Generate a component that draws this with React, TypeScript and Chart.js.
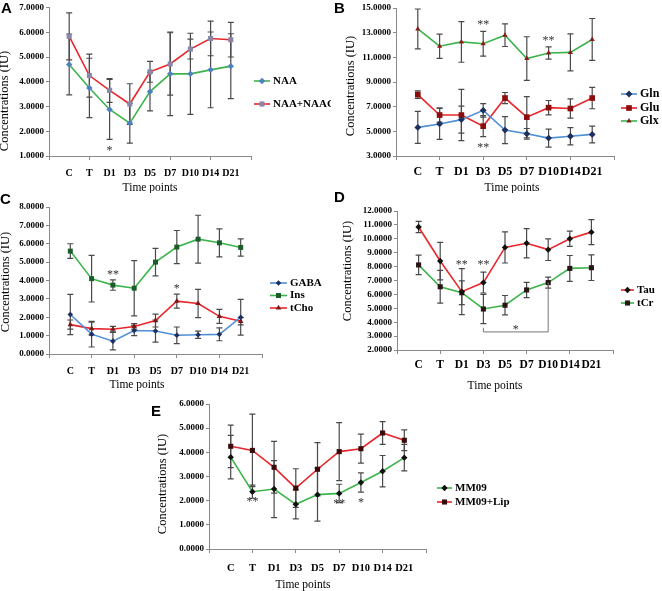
import React, { useEffect, useRef } from 'react';
import { Chart, registerables } from 'chart.js';
Chart.register(...registerables);

const SERIF = '"Liberation Serif", "Times New Roman", serif';
const SANS = '"Liberation Sans", Arial, sans-serif';

// ---------- data ----------
const timePoints = ['C', 'T', 'D1', 'D3', 'D5', 'D7', 'D10', 'D14', 'D21'];

// Panel A
const naa = [4.70, 3.75, 2.88, 2.33, 3.60, 4.32, 4.32, 4.48, 4.63];
const naaErr = [1.23, 1.20, 1.21, 0.81, 0.78, 1.69, 1.64, 1.53, 1.31];
const naaNaag = [5.83, 4.25, 3.65, 3.10, 4.40, 4.72, 5.32, 5.75, 5.70];
const naaNaagErr = [0.95, 0.87, 0.48, 0.82, 0.42, 1.26, 0.40, 0.70, 0.70];

// Panel B
const gln = [5.32, 5.60, 5.95, 6.70, 5.10, 4.80, 4.45, 4.60, 4.75];
const glnErr = [1.30, 1.25, 1.10, 0.55, 1.10, 0.43, 0.73, 0.70, 0.68];
const glu = [7.98, 6.32, 6.32, 5.42, 7.70, 6.15, 6.92, 6.85, 7.70];
const gluErr = [0.30, 0.58, 2.08, 0.85, 0.45, 1.67, 0.58, 0.78, 0.87];
const glx = [13.30, 11.90, 12.25, 12.10, 12.80, 10.90, 11.35, 11.40, 12.45];
const glxErr = [1.62, 0.98, 1.65, 1.00, 0.92, 1.77, 0.50, 1.50, 1.70];

// Panel C
const gaba = [2.15, 1.08, 0.70, 1.28, 1.25, 1.02, 1.05, 1.07, 2.00];
const gabaErr = [1.10, 0.70, 0.48, 0.28, 0.60, 0.45, 0.20, 0.35, 0.97];
const ins = [5.60, 4.10, 3.75, 3.58, 5.00, 5.82, 6.25, 6.05, 5.80];
const insErr = [0.40, 1.27, 0.28, 1.50, 0.75, 0.90, 1.30, 0.76, 0.47];
const tcho = [1.60, 1.38, 1.35, 1.50, 1.82, 2.88, 2.75, 2.05, 1.78];
const tchoErr = [0.25, 0.35, 0.15, 0.15, 0.35, 0.38, 0.77, 0.38, 0.20];

// Panel D
const tau = [10.85, 8.40, 6.20, 6.85, 9.38, 9.68, 9.22, 10.00, 10.48];
const tauErr = [0.40, 1.35, 1.65, 0.75, 1.12, 1.05, 0.78, 0.55, 0.90];
const tcr = [8.12, 6.55, 6.12, 4.95, 5.22, 6.32, 6.85, 7.87, 7.92];
const tcrErr = [0.70, 1.18, 0.85, 1.05, 0.70, 0.55, 0.40, 0.93, 0.92];

// Panel E
const mm09 = [3.80, 2.37, 2.48, 1.85, 2.25, 2.30, 2.75, 3.22, 3.78];
const mm09Err = [0.90, 0.27, 1.18, 0.60, 1.10, 0.38, 0.40, 0.65, 0.55];
const mm09Lip = [4.25, 4.08, 3.38, 2.52, 3.30, 4.03, 4.15, 4.80, 4.50];
const mm09LipErr = [0.88, 1.50, 1.07, 0.80, 1.10, 1.20, 0.60, 0.47, 0.43];

// significance marks (x = time-point index, y = value)
const starsA = [{ x: 2, y: 1.32, text: '*' }];
const starsB = [
  { x: 3, y: 13.8, text: '**' },
  { x: 3, y: 3.9, text: '**' },
  { x: 6, y: 12.57, text: '**' },
];
const starsC = [
  { x: 2, y: 4.47, text: '**' },
  { x: 5, y: 3.7, text: '*' },
];
const starsD = [
  { x: 2, y: 8.33, text: '**' },
  { x: 3, y: 8.33, text: '**' },
  { x: 4.5, y: 3.6, text: '*' },
];
const starsE = [
  { x: 1, y: 2.07, text: '**' },
  { x: 5, y: 1.96, text: '**' },
  { x: 6, y: 2.0, text: '*' },
];
const bracketD = { from: 3, to: 6, base: 3.3, leftTop: 3.6, rightTop: 6.85 };

// ---------- styling ----------
const GREEN = '#3cb44b';
const RED = '#e8262b';
const BLUE = '#4f8fd6';

type Shape = 'rectRot' | 'rect' | 'triangle';
interface Series {
  label: string;
  values: number[];
  errors: number[];
  line: string;
  marker: string;
  shape: Shape;
  radius: number;
}
interface Panel {
  letter: string;
  box: { x: number; y: number; w: number; h: number };
  area: { l: number; t: number; r: number; b: number };
  yMin: number;
  yMax: number;
  yStep: number;
  xFont: number;
  xPad: number;
  series: Series[];
  legend: { x0: number; x1: number; tx: number; ys: number[]; font: number };
  yTitle: { x: number; y: number };
  xTitle: { x: number; y: number };
  letterPos: { x: number; y: number };
  stars: { x: number; y: number; text: string }[];
  bracket?: typeof bracketD;
}

const panels: Panel[] = [
  {
    letter: 'A',
    box: { x: 0, y: 0, w: 331, h: 193 },
    area: { l: 49, t: 7.5, r: 251, b: 156 },
    yMin: 1, yMax: 7, yStep: 1, xFont: 10, xPad: 7,
    series: [
      { label: 'NAA', values: naa, errors: naaErr, line: GREEN, marker: '#4f81bd', shape: 'rectRot', radius: 3.2 },
      { label: 'NAA+NAAG', values: naaNaag, errors: naaNaagErr, line: RED, marker: '#8a86a8', shape: 'rect', radius: 3.6 },
    ],
    legend: { x0: 254, x1: 270, tx: 273, ys: [81, 104], font: 11 },
    yTitle: { x: 5, y: 101 },
    xTitle: { x: 150, y: 188 },
    letterPos: { x: 1, y: 1 },
    stars: starsA,
  },
  {
    letter: 'B',
    box: { x: 331, y: 0, w: 331, h: 193 },
    area: { l: 396, t: 8, r: 614, b: 156 },
    yMin: 3, yMax: 15, yStep: 2, xFont: 12, xPad: 4.8,
    series: [
      { label: 'Gln', values: gln, errors: glnErr, line: BLUE, marker: '#1f2f5f', shape: 'rectRot', radius: 3.4 },
      { label: 'Glu', values: glu, errors: gluErr, line: RED, marker: '#8b0d0d', shape: 'rect', radius: 4 },
      { label: 'Glx', values: glx, errors: glxErr, line: GREEN, marker: '#8b1a1a', shape: 'triangle', radius: 3 },
    ],
    legend: { x0: 621, x1: 637, tx: 640, ys: [94, 108, 121], font: 12 },
    yTitle: { x: 351, y: 86 },
    xTitle: { x: 512, y: 188 },
    letterPos: { x: 334, y: 1 },
    stars: starsB,
  },
  {
    letter: 'C',
    box: { x: 0, y: 191, w: 331, h: 202 },
    area: { l: 49, t: 207, r: 262, b: 354 },
    yMin: 0, yMax: 8, yStep: 1, xFont: 10, xPad: 7,
    series: [
      { label: 'GABA', values: gaba, errors: gabaErr, line: BLUE, marker: '#1f2f5f', shape: 'rectRot', radius: 2.8 },
      { label: 'Ins', values: ins, errors: insErr, line: GREEN, marker: '#1a5c2a', shape: 'rect', radius: 3.5 },
      { label: 'tCho', values: tcho, errors: tchoErr, line: RED, marker: '#7a1a1a', shape: 'triangle', radius: 3.2 },
    ],
    legend: { x0: 270, x1: 287, tx: 290, ys: [283, 295.5, 308], font: 11 },
    yTitle: { x: 6, y: 282 },
    xTitle: { x: 137, y: 385 },
    letterPos: { x: 0, y: 192 },
    stars: starsC,
  },
  {
    letter: 'D',
    box: { x: 331, y: 191, w: 331, h: 202 },
    area: { l: 397, t: 211, r: 613, b: 350 },
    yMin: 2, yMax: 12, yStep: 1, xFont: 11.5, xPad: 4.1,
    series: [
      { label: 'Tau', values: tau, errors: tauErr, line: RED, marker: '#111111', shape: 'rectRot', radius: 3.2 },
      { label: 'tCr', values: tcr, errors: tcrErr, line: GREEN, marker: '#2a1515', shape: 'rect', radius: 3.6 },
    ],
    legend: { x0: 621, x1: 634, tx: 637, ys: [290, 303], font: 11 },
    yTitle: { x: 348, y: 271 },
    xTitle: { x: 495, y: 386 },
    letterPos: { x: 334, y: 190 },
    stars: starsD,
    bracket: bracketD,
  },
  {
    letter: 'E',
    box: { x: 150, y: 398, w: 360, h: 193 },
    area: { l: 209, t: 404, r: 426, b: 549 },
    yMin: 0, yMax: 6, yStep: 1, xFont: 10.5, xPad: 8.7,
    series: [
      { label: 'MM09', values: mm09, errors: mm09Err, line: GREEN, marker: '#111111', shape: 'rectRot', radius: 3.2 },
      { label: 'MM09+Lip09', values: mm09Lip, errors: mm09LipErr, line: RED, marker: '#3a0a0a', shape: 'rect', radius: 3.6 },
    ],
    legend: { x0: 437, x1: 452, tx: 455, ys: [488, 502], font: 11 },
    yTitle: { x: 163, y: 484 },
    xTitle: { x: 303, y: 585 },
    letterPos: { x: 151, y: 404 },
    stars: starsE,
  },
];

function drawMarker(ctx: CanvasRenderingContext2D, shape: Shape, x: number, y: number, r: number, color: string) {
  ctx.fillStyle = color;
  ctx.beginPath();
  if (shape === 'rectRot') {
    ctx.moveTo(x, y - r);
    ctx.lineTo(x + r, y);
    ctx.lineTo(x, y + r);
    ctx.lineTo(x - r, y);
  } else if (shape === 'rect') {
    const s = r * Math.SQRT1_2;
    ctx.rect(x - s, y - s, 2 * s, 2 * s);
  } else {
    ctx.moveTo(x, y - r);
    ctx.lineTo(x + r * 0.866, y + r * 0.5);
    ctx.lineTo(x - r * 0.866, y + r * 0.5);
  }
  ctx.closePath();
  ctx.fill();
}

function makePlugin(p: Panel) {
  return {
    id: 'decor' + p.letter,
    beforeDatasetsDraw(chart: any) {
      const ctx: CanvasRenderingContext2D = chart.ctx;
      const xs = chart.scales.x;
      const ys = chart.scales.y;
      ctx.save();
      ctx.strokeStyle = '#4a4a4a';
      ctx.lineWidth = 1.2;
      p.series.forEach((s) => {
        s.values.forEach((v, i) => {
          const e = s.errors[i];
          const px = xs.getPixelForValue(i);
          const top = ys.getPixelForValue(v + e);
          const bot = ys.getPixelForValue(v - e);
          ctx.beginPath();
          ctx.moveTo(px, top);
          ctx.lineTo(px, bot);
          ctx.moveTo(px - 3, top);
          ctx.lineTo(px + 3, top);
          ctx.moveTo(px - 3, bot);
          ctx.lineTo(px + 3, bot);
          ctx.stroke();
        });
      });
      ctx.restore();
    },
    afterDraw(chart: any) {
      const ctx: CanvasRenderingContext2D = chart.ctx;
      const xs = chart.scales.x;
      const ys = chart.scales.y;
      const ox = p.box.x;
      const oy = p.box.y;
      ctx.save();
      // panel letter
      ctx.fillStyle = '#000';
      ctx.font = `bold 15px ${SANS}`;
      ctx.textAlign = 'left';
      ctx.textBaseline = 'top';
      ctx.fillText(p.letter, p.letterPos.x - ox, p.letterPos.y - oy);
      // y title
      ctx.save();
      ctx.translate(p.yTitle.x - ox, p.yTitle.y - oy);
      ctx.rotate(-Math.PI / 2);
      ctx.font = `12.5px ${SERIF}`;
      ctx.textAlign = 'center';
      ctx.textBaseline = 'middle';
      ctx.fillText('Concentrations (IU)', 0, 0);
      ctx.restore();
      // x title
      ctx.font = `11.5px ${SERIF}`;
      ctx.textAlign = 'center';
      ctx.textBaseline = 'middle';
      ctx.fillText('Time points', p.xTitle.x - ox, p.xTitle.y - oy);
      // legend
      p.series.forEach((s, i) => {
        const y = p.legend.ys[i] - oy;
        ctx.strokeStyle = s.line;
        ctx.lineWidth = 1.6;
        ctx.beginPath();
        ctx.moveTo(p.legend.x0 - ox, y);
        ctx.lineTo(p.legend.x1 - ox, y);
        ctx.stroke();
        drawMarker(ctx, s.shape, (p.legend.x0 + p.legend.x1) / 2 - ox, y, s.radius, s.marker);
        ctx.fillStyle = '#000';
        ctx.font = `bold ${p.legend.font}px ${SERIF}`;
        ctx.textAlign = 'left';
        ctx.textBaseline = 'middle';
        ctx.fillText(s.label, p.legend.tx - ox, y);
      });
      // significance stars
      ctx.fillStyle = '#333';
      ctx.font = `12px ${SERIF}`;
      ctx.textAlign = 'center';
      ctx.textBaseline = 'middle';
      p.stars.forEach((st) => {
        ctx.fillText(st.text, xs.getPixelForValue(st.x), ys.getPixelForValue(st.y) + 2.5);
      });
      // bracket
      if (p.bracket) {
        const b = p.bracket;
        const x0 = xs.getPixelForValue(b.from);
        const x1 = xs.getPixelForValue(b.to);
        ctx.strokeStyle = '#777';
        ctx.lineWidth = 1;
        ctx.beginPath();
        ctx.moveTo(x0, ys.getPixelForValue(b.leftTop));
        ctx.lineTo(x0, ys.getPixelForValue(b.base));
        ctx.lineTo(x1, ys.getPixelForValue(b.base));
        ctx.lineTo(x1, ys.getPixelForValue(b.rightTop));
        ctx.stroke();
      }
      ctx.restore();
    },
  };
}

function zeroPad(s: any) {
  s.paddingTop = 0;
  s.paddingBottom = 0;
  s.paddingLeft = 0;
  s.paddingRight = 0;
}

function PanelChart({ p }: { p: Panel }) {
  const ref = useRef<HTMLCanvasElement>(null);
  useEffect(() => {
    if (!ref.current) return;
    const tickFont = { family: SERIF, weight: 'bold' as const };
    const chart = new Chart(ref.current, {
      type: 'line',
      data: {
        datasets: p.series.map((s) => ({
          label: s.label,
          data: s.values.map((v, i) => ({ x: i, y: v })),
          borderColor: s.line,
          backgroundColor: s.marker,
          borderWidth: 1.6,
          pointStyle: s.shape,
          pointRadius: s.radius,
          pointBackgroundColor: s.marker,
          pointBorderColor: s.marker,
          pointBorderWidth: 0,
          tension: 0,
          fill: false,
        })),
      },
      options: {
        animation: false,
        responsive: false,
        events: [],
        layout: {
          autoPadding: false,
          padding: {
            left: 0,
            top: p.area.t - p.box.y,
            right: p.box.x + p.box.w - p.area.r,
            bottom: 0,
          },
        },
        plugins: { legend: { display: false }, tooltip: { enabled: false } },
        scales: {
          x: {
            type: 'linear',
            min: -1,
            max: timePoints.length,
            afterBuildTicks: (axis: any) => {
              const t = [];
              for (let v = -1; v <= timePoints.length; v++) t.push({ value: v });
              axis.ticks = t;
            },
            afterFit: (s: any) => {
              s.height = p.box.y + p.box.h - p.area.b;
              zeroPad(s);
            },
            grid: {
              display: true,
              drawOnChartArea: false,
              drawTicks: true,
              tickLength: 4,
              tickColor: (c: any) =>
                c.tick && Math.abs(c.tick.value % 2) === 1 ? '#8a8a8a' : 'rgba(0,0,0,0)',
            },
            border: { display: true, color: '#8a8a8a', width: 1 },
            ticks: {
              autoSkip: false,
              maxRotation: 0,
              minRotation: 0,
              padding: p.xPad,
              color: '#000',
              font: { ...tickFont, size: p.xFont },
              callback: (v: any) => timePoints[v] ?? '',
            },
          },
          y: {
            type: 'linear',
            min: p.yMin,
            max: p.yMax,
            afterFit: (s: any) => {
              s.width = p.area.l - p.box.x;
              zeroPad(s);
            },
            grid: {
              display: true,
              drawOnChartArea: false,
              drawTicks: true,
              tickLength: 3,
              color: '#8a8a8a',
            },
            border: { display: true, color: '#8a8a8a', width: 1 },
            ticks: {
              stepSize: p.yStep,
              padding: 2,
              color: '#000',
              font: { ...tickFont, size: 9 },
              callback: (v: any) => Number(v).toFixed(4),
            },
          },
        },
      } as any,
      plugins: [makePlugin(p)],
    });
    return () => chart.destroy();
  }, [p]);
  return (
    <canvas
      ref={ref}
      width={p.box.w}
      height={p.box.h}
      style={{
        position: 'absolute',
        left: p.box.x,
        top: p.box.y,
        width: p.box.w,
        height: p.box.h,
      }}
    />
  );
}

export default function App() {
  return (
    <div
      style={{
        position: 'absolute',
        left: 0,
        top: 0,
        width: 662,
        height: 591,
        background: '#fff',
        overflow: 'hidden',
      }}
    >
      {panels.map((p) => (
        <PanelChart key={p.letter} p={p} />
      ))}
    </div>
  );
}
